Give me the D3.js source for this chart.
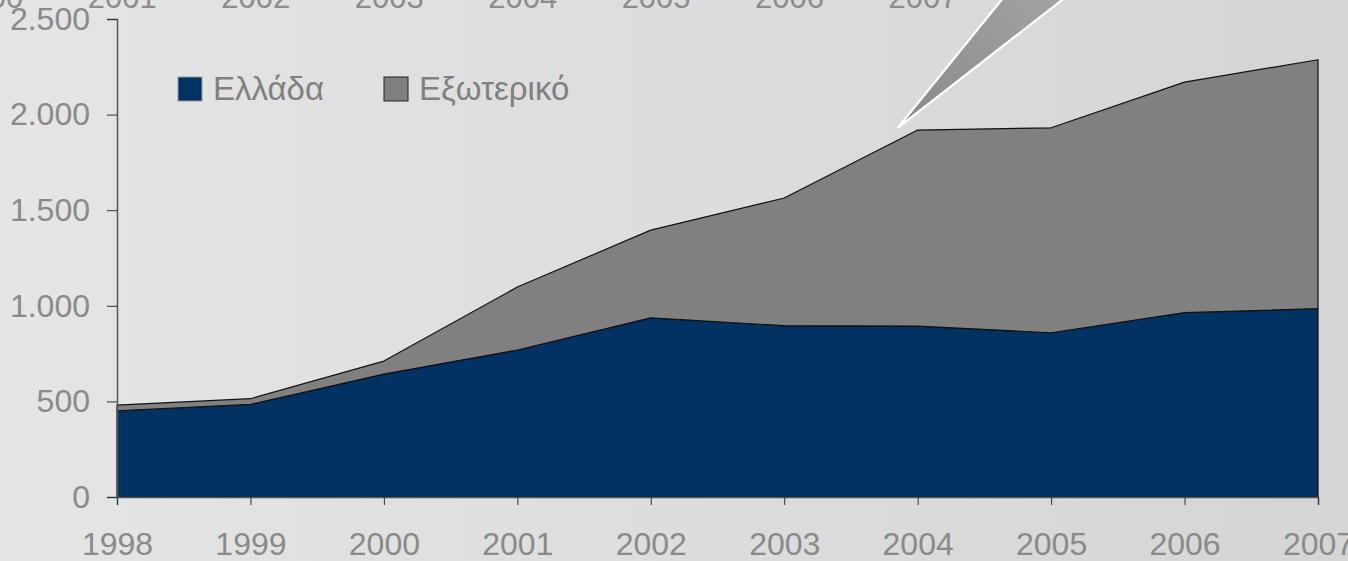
<!DOCTYPE html>
<html>
<head>
<meta charset="utf-8">
<script src="https://cdn.jsdelivr.net/npm/d3@7"></script>
<style>
  body { margin: 0; overflow: hidden; }
  text { font-family: "Liberation Sans", Arial, sans-serif; }
</style>
</head>
<body>
<svg id="chart"></svg>
<script>
// values
const years = [1998, 1999, 2000, 2001, 2002, 2003, 2004, 2005, 2006, 2007];
const ellada = [451, 484, 643, 769, 937, 896, 894, 859, 964, 985];
const exoteriko = [30, 30, 68, 329, 459, 668, 1025, 1072, 1206, 1302];
const seriesNames = ["Ελλάδα", "Εξωτερικό"];
const seriesColors = ["#003263", "#808080"];
const yTicks = [0, 500, 1000, 1500, 2000, 2500];

const W = 1348, H = 561;
const margin = { top: 19, right: 30, bottom: 64, left: 117 };
const width = W - margin.left - margin.right;
const height = H - margin.top - margin.bottom;

const svg = d3.select("#chart").attr("width", W).attr("height", H);

// slide background
const defs = svg.append("defs");
const bg = defs.append("linearGradient").attr("id", "bg");
bg.append("stop").attr("offset", "0%").attr("stop-color", "#e5e5e5");
bg.append("stop").attr("offset", "100%").attr("stop-color", "#d5d5d5");
const wedgeGrad = defs.append("linearGradient").attr("id", "wedge")
    .attr("x1", "0%").attr("y1", "100%").attr("x2", "100%").attr("y2", "0%");
wedgeGrad.append("stop").attr("offset", "0%").attr("stop-color", "#8a8a8a");
wedgeGrad.append("stop").attr("offset", "100%").attr("stop-color", "#a6a6a6");

svg.append("rect").attr("width", W).attr("height", H).attr("fill", "url(#bg)");

const x = d3.scaleLinear().domain(d3.extent(years)).range([0, width]);
const y = d3.scaleLinear().domain([0, 2500]).range([height, 0]);

const g = svg.append("g")
    .attr("transform", "translate(" + margin.left + "," + margin.top + ")");

// ghost of year labels left at the top edge of the slide
const ghost = svg.append("g").attr("transform", "translate(" + (margin.left - 395) + ",8)");
ghost.selectAll("text")
    .data(years)
    .enter().append("text")
    .attr("x", d => x(d))
    .attr("text-anchor", "middle")
    .attr("font-size", 31)
    .attr("fill", "#8c8c8c")
    .text(d => d);

const rows = years.map((yr, i) => ({ year: yr, "Ελλάδα": ellada[i], "Εξωτερικό": exoteriko[i] }));
const stacked = d3.stack().keys(seriesNames)(rows);

const area = d3.area()
    .x(d => x(d.data.year))
    .y0(d => y(d[0]))
    .y1(d => y(d[1]));

g.selectAll(".layer")
    .data(stacked)
    .enter().append("path")
    .attr("class", "layer")
    .attr("d", area)
    .attr("fill", (d, i) => seriesColors[i])
    .attr("stroke", "#111")
    .attr("stroke-width", 1.2)
    .attr("stroke-linejoin", "round");

// callout pointer coming down from the top
const tip = [x(2004) - 20, y(1930)];
svg.append("polygon")
    .attr("points", [
        [margin.left + tip[0], margin.top + tip[1]],
        [margin.left + tip[0] + 120, -20],
        [margin.left + tip[0] + 190, -20]
    ].map(p => p.join(",")).join(" "))
    .attr("fill", "url(#wedge)")
    .attr("stroke", "#ffffff")
    .attr("stroke-width", 2.2);

const fmt = d3.formatLocale({ decimal: ",", thousands: ".", grouping: [3], currency: ["", ""] }).format(",d");

const yAxis = d3.axisLeft(y).tickValues(yTicks).tickSize(10).tickPadding(17).tickFormat(fmt);
const yG = g.append("g").call(yAxis);
yG.select(".domain").attr("stroke", "#555").attr("stroke-width", 1.5);
yG.selectAll(".tick line").attr("stroke", "#333");
yG.selectAll(".tick text")
    .attr("font-size", 32)
    .attr("fill", "#8a8a8a")
    .attr("font-family", "Liberation Sans, Arial, sans-serif");

const xAxis = d3.axisBottom(x).tickValues(years).tickSize(8).tickFormat(d3.format("d"));
const xG = g.append("g").attr("transform", "translate(0," + height + ")").call(xAxis);
xG.select(".domain").attr("stroke", "#555").attr("stroke-width", 1.5);
xG.selectAll(".tick line").attr("stroke", "#333");
xG.selectAll(".tick text")
    .attr("y", 35)
    .attr("font-size", 32)
    .attr("fill", "#8a8a8a")
    .attr("font-family", "Liberation Sans, Arial, sans-serif");

// legend
const legend = svg.append("g").attr("transform", "translate(178,77)");
const legendX = [0, 206];
const item = legend.selectAll(".item")
    .data(seriesNames)
    .enter().append("g")
    .attr("transform", (d, i) => "translate(" + legendX[i] + ",0)");
item.append("rect")
    .attr("width", 24).attr("height", 24)
    .attr("fill", (d, i) => seriesColors[i])
    .attr("stroke", (d, i) => i === 0 ? "#9a9a9a" : "#222")
    .attr("stroke-width", 1);
item.append("text")
    .attr("x", 35).attr("y", 23)
    .attr("font-size", 33)
    .attr("fill", "#808080")
    .text(d => d);
</script>
</body>
</html>
